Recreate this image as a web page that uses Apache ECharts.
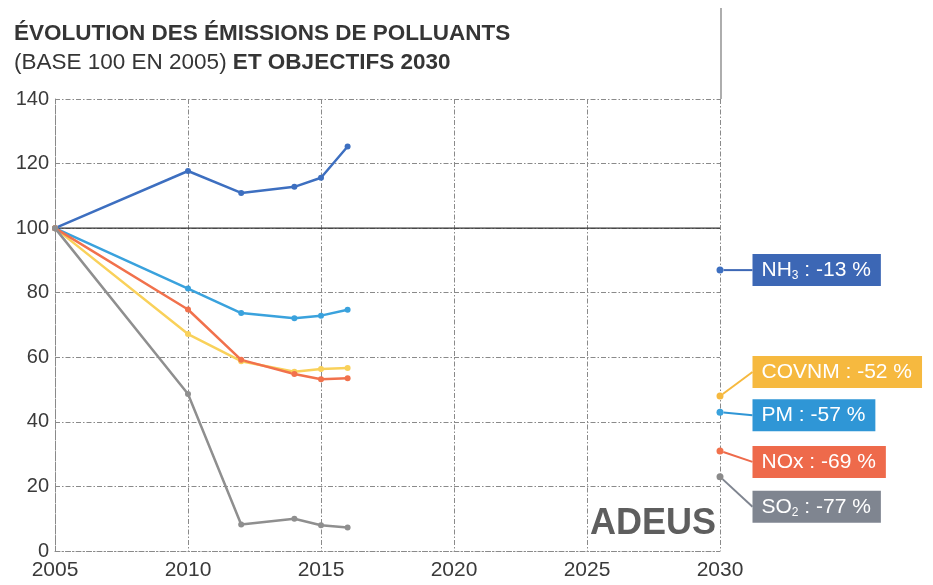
<!DOCTYPE html>
<html>
<head>
<meta charset="utf-8">
<script src="https://cdn.jsdelivr.net/npm/echarts@6/dist/echarts.min.js"></script>
<style>
html,body{margin:0;padding:0;background:#fff;}
#main{width:933px;height:585px;}
</style>
</head>
<body>
<div id="main"></div>
<script>
// ---- Data ----
const years = [2005, 2010, 2012, 2014, 2015, 2016];
const nh3   = [100, 117.7, 110.9, 112.8, 115.6, 125.3];
const pm    = [100, 81.3, 73.7, 72.1, 72.9, 74.7];
const covnm = [100, 67.2, 58.8, 55.5, 56.4, 56.7];
const nox   = [100, 74.8, 59.2, 54.8, 53.2, 53.5];
const so2   = [100, 48.6, 8.2, 10.0, 8.0, 7.3];
const targetYear = 2030;
const targetNames  = ['NH3', 'COVNM', 'PM', 'NOx', 'SO2'];
const targetValues = [87, 48, 43, 31, 23];
const targetLabels = ['NH{sub|3} : -13 %', 'COVNM : -52 %', 'PM : -57 %', 'NOx : -69 %', 'SO{sub|2} : -77 %'];
const xTicks = [2005, 2010, 2015, 2020, 2025, 2030];
const yTicks = [0, 20, 40, 60, 80, 100, 120, 140];

const lineColors = {NH3:'#3d6fc0', PM:'#3aa2dd', COVNM:'#f9d15a', NOx:'#f1714c', SO2:'#8f8f8f'};
const dotColors  = {NH3:'#3d6fc0', PM:'#3aa2dd', COVNM:'#f6b93f', NOx:'#f1714c', SO2:'#8a8a8a'};
const boxColors  = {NH3:'#3c67b5', PM:'#2f96d6', COVNM:'#f6b93f', NOx:'#ee6a4b', SO2:'#7f8590'};
const labelDy    = {NH3:0, COVNM:-24, PM:3, NOx:11, SO2:30};

const chart = echarts.init(document.getElementById('main'), null, {renderer:'canvas'});

function lineSeries(name, vals){
  return {
    name, type:'line', data: years.map((y,i)=>[y, vals[i]]),
    symbol:'circle', symbolSize:6, showSymbol:true,
    lineStyle:{color:lineColors[name], width:2.5},
    itemStyle:{color:lineColors[name]},
    z: 5
  };
}

const gridDash = {color:'#8a8a8a', width:1, type:[5,2,1.5,2]};

const series = [
  lineSeries('NH3', nh3),
  lineSeries('PM', pm),
  lineSeries('COVNM', covnm),
  lineSeries('NOx', nox),
  lineSeries('SO2', so2),
  {
    type:'line', data:[[2005,100],[2030,100]], symbol:'none',
    lineStyle:{color:'#333', width:1.2}, z:2, silent:true
  }
];

targetNames.forEach((n, i) => {
  series.push({
    name: n + ' 2030', type:'scatter',
    data:[[targetYear, targetValues[i]]],
    symbol:'circle', symbolSize:7,
    itemStyle:{color:dotColors[n], opacity:1},
    label:{
      show:true, position:'right', distance:29,
      formatter: targetLabels[i],
      backgroundColor: boxColors[n], color:'#fff', opacity:1,
      fontFamily:'Liberation Sans, Arial, sans-serif', fontSize:21,
      padding:[5,10,5,9], lineHeight:22,
      rich:{ sub:{fontSize:12, color:'#fff', padding:[12,0,0,0]} }
    },
    labelLayout:{dy: labelDy[n]},
    labelLine:{show:true, lineStyle:{color:boxColors[n], width:2, opacity:1}},
    z: 6
  });
});

chart.setOption({
  animation:false,
  backgroundColor:'#fff',
  textStyle:{fontFamily:'Liberation Sans, Arial, sans-serif'},
  title:{
    left:9, top:14,
    text:'ÉVOLUTION DES ÉMISSIONS DE POLLUANTS\n{n|(BASE 100 EN 2005)} {b|ET OBJECTIFS 2030}',
    textStyle:{
      fontSize:22.5, fontWeight:'bold', color:'#353535', lineHeight:29,
      fontFamily:'Liberation Sans, Arial, sans-serif',
      rich:{
        n:{fontSize:22.5, fontWeight:'normal', color:'#353535', lineHeight:29},
        b:{fontSize:22.5, fontWeight:'bold', color:'#353535', lineHeight:29}
      }
    }
  },
  grid:{left:55, right:213, top:99, bottom:34, containLabel:false},
  xAxis:{
    type:'value', min:2005, max:2030, interval:5,
    axisLine:{show:true, lineStyle:gridDash},
    axisTick:{show:false},
    axisLabel:{color:'#3a3a3a', fontSize:21, margin:9,
      formatter:(v)=> xTicks.includes(v) ? String(v) : ''},
    splitLine:{show:true, lineStyle:gridDash}
  },
  yAxis:{
    type:'value', min:0, max:140, interval:20,
    axisLine:{show:true, lineStyle:gridDash},
    axisTick:{show:false},
    axisLabel:{color:'#3a3a3a', fontSize:20, margin:6,
      formatter:(v)=> yTicks.includes(v) ? String(v) : ''},
    splitLine:{show:true, lineStyle:gridDash}
  },
  graphic:[
    {type:'line', shape:{x1:721, y1:8, x2:721, y2:99}, style:{stroke:'#777', lineWidth:1.2}},
    {type:'text', right:217, bottom:43, style:{text:'ADEUS', fontSize:36, fontWeight:'bold',
      fill:'#5e5e5e', fontFamily:'Liberation Sans, Arial, sans-serif'}}
  ],
  series
});
</script>
</body>
</html>
